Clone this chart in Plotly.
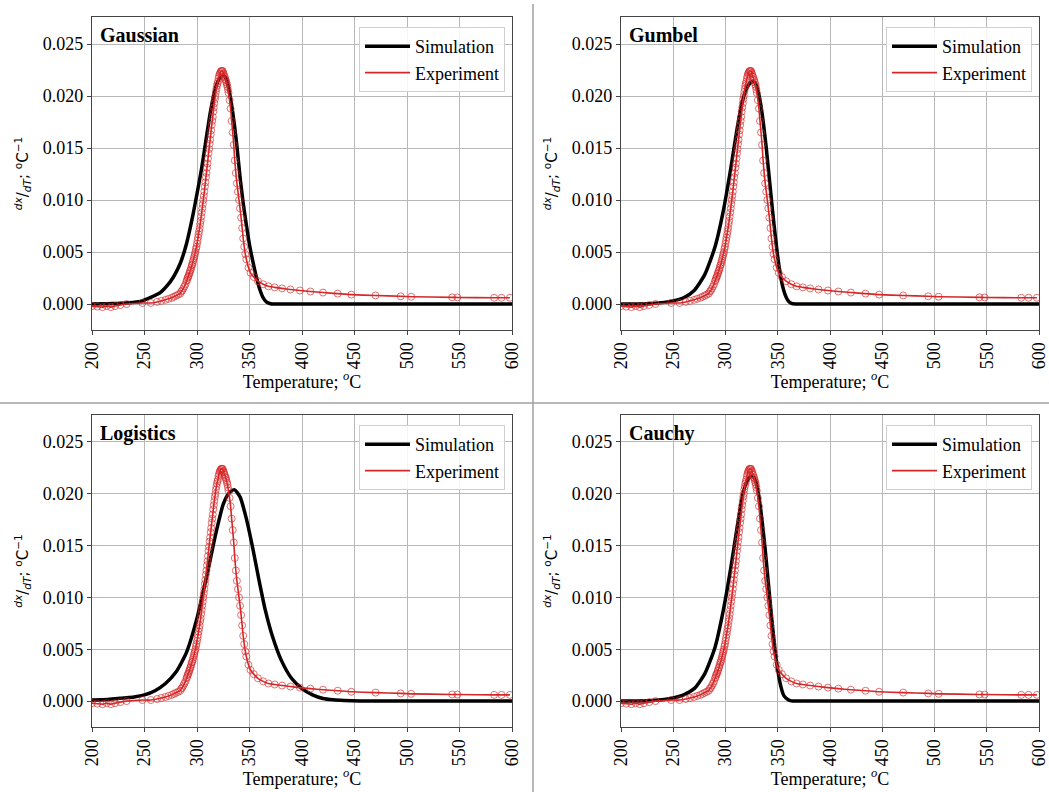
import plotly.graph_objects as go

# ---------------- data ----------------
exp_T = [200, 205, 210, 214, 218, 222, 227, 233, 248, 256, 262, 266, 270, 273, 276,
         278, 280, 282, 284, 285, 286, 287, 288, 289, 290, 290.5, 291, 291.5, 292, 292.5,
         293, 293.5, 294, 294.5, 295, 295.5, 296, 296.5, 297, 297.5, 298, 298.5, 299,
         299.5, 300, 300.5, 301, 301.5, 302, 302.5, 303, 303.5, 304, 304.5, 305, 305.5,
         306, 306.5, 307, 307.5, 308, 308.5, 309, 309.5, 310, 310.5, 311, 311.5, 312,
         312.5, 313, 313.5, 314, 314.5, 315, 315.5, 316, 316.5, 317, 317.5, 318, 318.5,
         319, 319.5, 320, 320.5, 321, 321.5, 322, 322.5, 323, 323.5, 324, 324.5, 325,
         325.5, 326, 326.5, 327, 327.5, 328, 328.5, 329, 329.5, 330, 331, 332, 333, 334,
         335, 336, 337, 338, 339, 340, 341, 342, 343, 344, 345, 346, 347, 349, 351, 354,
         358, 363, 368, 374, 381, 389, 398, 408, 420, 434, 447, 470, 494, 504, 543, 548,
         583, 590, 598]
exp_v = [-0.0002, -0.00025, -0.0003, -0.0002, -0.0003, -0.0002, -0.0001, 0.0000, 0.0001,
         0.0001, 0.0002, 0.0003, 0.0004, 0.0005, 0.0006, 0.0007, 0.0008, 0.0009, 0.0010,
         0.0012, 0.0013, 0.0015, 0.0017, 0.0019, 0.0022, 0.0023, 0.0025, 0.0026, 0.0027, 0.0029,
         0.0030, 0.0032, 0.0033, 0.0035, 0.0037, 0.0038, 0.0040, 0.0042, 0.0044, 0.0046,
         0.0048, 0.0050, 0.0053, 0.0055, 0.0058, 0.0061, 0.0064, 0.0067, 0.0070, 0.0073,
         0.0077, 0.0080, 0.0084, 0.0088, 0.0092, 0.0096, 0.0100, 0.0104, 0.0108, 0.0113,
         0.0117, 0.0122, 0.0126, 0.0131, 0.0135, 0.0140, 0.0145, 0.0149, 0.0154, 0.0158,
         0.0163, 0.0167, 0.0172, 0.0176, 0.0180, 0.0185, 0.0189, 0.0193, 0.0197, 0.0200,
         0.0204, 0.0207, 0.0210, 0.0212, 0.0214, 0.0217, 0.0219, 0.0221, 0.0222, 0.0223,
         0.0224, 0.0224, 0.0224, 0.0224, 0.0222, 0.0221, 0.0219, 0.0218, 0.0216, 0.0215,
         0.0213, 0.0211, 0.0209, 0.0206, 0.0203, 0.0196, 0.0188, 0.0176, 0.0165, 0.0153,
         0.0138, 0.0126, 0.0116, 0.0108, 0.0100, 0.0092, 0.0083, 0.0073, 0.0063, 0.0055,
         0.0048, 0.0043, 0.0035, 0.0030, 0.0026, 0.0022, 0.0019, 0.0017, 0.0016, 0.0015,
         0.0014, 0.0013, 0.0012, 0.0011, 0.0010, 0.0009, 0.00082, 0.00074, 0.0007, 0.00064,
         0.00063, 0.0006, 0.0006, 0.0006]

gauss_T = [200, 220, 235, 246, 255, 265, 275, 284, 290, 296, 300, 304, 308, 313, 318,
           322, 325, 328, 331, 334.6, 338, 341, 344, 347.3, 350, 353.6, 357, 360, 363,
           366, 370, 380, 600]
gauss_v = [0.0000, 0.00004, 0.00012, 0.00025, 0.0006, 0.0011, 0.0022, 0.0039, 0.0058, 0.0085,
           0.0106, 0.0128, 0.0154, 0.0186, 0.0209, 0.0218, 0.0220, 0.0216, 0.0203, 0.0180,
           0.0152, 0.0122, 0.0097, 0.0074, 0.0057, 0.0039, 0.0024, 0.00135, 0.0006, 0.0002,
           0.00003, 0.0, 0.0]

gumbel_T = [200, 230, 250, 260, 270, 280, 290, 298, 305, 311, 316, 320, 324, 327, 330,
            333, 336, 339, 342, 345, 348, 351, 354, 357, 360, 363, 367, 380, 600]
gumbel_v = [0.0000, 0.00006, 0.0003, 0.0006, 0.0013, 0.0028, 0.0055, 0.0090, 0.0130, 0.0168,
            0.0194, 0.0207, 0.0213, 0.0214, 0.0209, 0.0196, 0.0176, 0.0150, 0.0120, 0.0090,
            0.0062, 0.0038, 0.0020, 0.0009, 0.0003, 0.00006, 0.0, 0.0, 0.0]

logis_T = [200, 215, 230, 240, 250, 260, 270, 280, 290, 300, 310, 318, 325, 330, 335.5,
           341, 347, 353, 359, 365, 372, 380, 390, 400, 410, 420, 430, 440, 455, 470, 600]
logis_v = [0.0001, 0.00015, 0.0003, 0.0004, 0.0006, 0.0010, 0.0017, 0.0028, 0.0047, 0.0080,
           0.0124, 0.0162, 0.0190, 0.0200, 0.0204, 0.0197, 0.0176, 0.0148, 0.0117, 0.0088,
           0.0062, 0.0040, 0.0022, 0.0012, 0.0006, 0.00025, 0.00012, 0.00006, 0.00002, 0.0, 0.0]

cauchy_T = [200, 230, 250, 260, 270, 280, 290, 298, 305, 311, 316, 320, 323, 326, 329,
            332, 335, 338, 341, 344, 347, 350, 353, 356, 360, 363, 367, 380, 600]
cauchy_v = [0.0000, 0.00006, 0.0003, 0.0006, 0.0012, 0.0026, 0.0052, 0.0088, 0.0128, 0.0167,
            0.0197, 0.0211, 0.0216, 0.0217, 0.0212, 0.0197, 0.0174, 0.0146, 0.0114, 0.0082,
            0.0053, 0.0030, 0.0014, 0.0005, 0.00012, 0.00002, 0.0, 0.0, 0.0]

panel_names = ["Gaussian", "Gumbel", "Logistics", "Cauchy"]
sim_T = [gauss_T, gumbel_T, logis_T, cauchy_T]
sim_v = [gauss_v, gumbel_v, logis_v, cauchy_v]

x_ticks = [200, 250, 300, 350, 400, 450, 500, 550, 600]
y_ticks = [0.000, 0.005, 0.010, 0.015, 0.020, 0.025]

# ---------------- layout ----------------
W, H = 1049, 792
xdom = [[92 / W, 512 / W], [621 / W, 1039 / W]]
ydom = [[1 - 330 / H, 1 - 17 / H], [1 - 727 / H, 1 - 415 / H]]

RED = "rgb(214,39,40)"
SERIF = "Liberation Serif"

fig = go.Figure()
layout = dict(width=W, height=H, margin=dict(l=0, r=0, t=0, b=0, autoexpand=False),
              paper_bgcolor="white", plot_bgcolor="white", showlegend=True,
              font=dict(family=SERIF, size=18, color="black"))
annotations = []
for i, name in enumerate(panel_names):
    row, col = divmod(i, 2)
    n = i + 1
    xa = "x" if n == 1 else f"x{n}"
    ya = "y" if n == 1 else f"y{n}"
    lg = "legend" if n == 1 else f"legend{n}"
    fig.add_trace(go.Scatter(x=sim_T[i], y=sim_v[i], mode="lines", name="Simulation",
                             line=dict(color="black", width=3.5, shape="spline", smoothing=0.6),
                             xaxis=xa, yaxis=ya, legend=lg))
    fig.add_trace(go.Scatter(x=exp_T, y=exp_v, mode="lines", name="Experiment",
                             line=dict(color=RED, width=1.6, shape="spline", smoothing=0.5),
                             xaxis=xa, yaxis=ya, legend=lg))
    fig.add_trace(go.Scatter(x=exp_T, y=exp_v, mode="markers", showlegend=False,
                             marker=dict(symbol="circle-open", size=7,
                                         color="rgba(214,39,40,0.65)", line=dict(width=1)),
                             xaxis=xa, yaxis=ya))
    axis_common = dict(showline=True, mirror=True, linecolor="#444", linewidth=1.2,
                       ticks="outside", ticklen=4, tickcolor="#444", automargin=False,
                       showgrid=True, gridcolor="#b8b8b8", gridwidth=1, zeroline=False,
                       ticklabeloverflow="allow",
                       tickfont=dict(family=SERIF, size=18))
    layout["xaxis" if n == 1 else f"xaxis{n}"] = dict(
        axis_common, domain=xdom[col], anchor=ya, range=[200, 600],
        tickvals=x_ticks, tickangle=-90,
        title=dict(text="Temperature; <sup><i>o</i></sup>C", standoff=0,
                   font=dict(family=SERIF, size=18)))
    layout["yaxis" if n == 1 else f"yaxis{n}"] = dict(
        axis_common, domain=ydom[row], anchor=xa, range=[-0.0025, 0.0276],
        tickvals=y_ticks, tickformat=".3f",
        title=dict(text="<sup><i>dx</i></sup>/<sub><i>dT</i></sub>; <sup>o</sup>C<sup>\u22121</sup>",
                   standoff=10, font=dict(family="DejaVu Sans", size=15)))
    layout[lg] = dict(x=xdom[col][1] - 7 / W, y=ydom[row][1] - 10 / H,
                      xanchor="right", yanchor="top", itemwidth=45,
                      bgcolor="rgba(255,255,255,0.85)", bordercolor="#d0d0d0", borderwidth=1,
                      font=dict(family=SERIF, size=18), tracegroupgap=0)
    annotations.append(dict(text=f"<b>{name}</b>", xref=f"{xa} domain", yref=f"{ya} domain",
                            x=0.015, y=0.985, xanchor="left", yanchor="top", showarrow=False,
                            font=dict(family=SERIF, size=20, color="black")))

layout["annotations"] = annotations
layout["shapes"] = [
    dict(type="line", xref="paper", yref="paper", x0=533 / W, x1=533 / W, y0=0, y1=1 - 4 / H,
         line=dict(color="#a0a0a0", width=1.5)),
    dict(type="line", xref="paper", yref="paper", x0=0, x1=1, y0=1 - 403 / H, y1=1 - 403 / H,
         line=dict(color="#a0a0a0", width=1.5)),
]
fig.update_layout(**layout)
fig.write_html("out.html")
